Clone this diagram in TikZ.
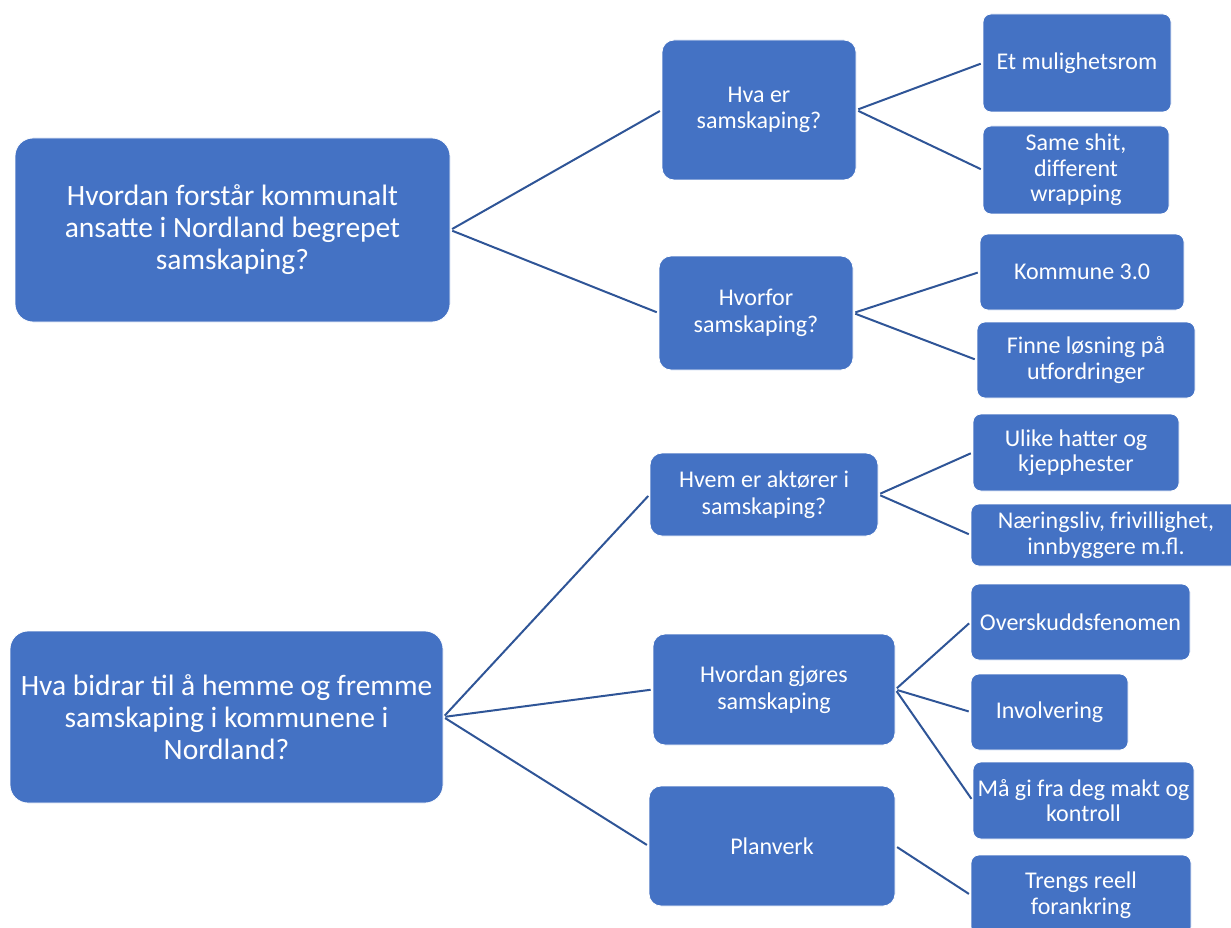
\documentclass[tikz,border=0pt]{standalone}
\usepackage{fontspec}
\setmainfont{Carlito}
\definecolor{boksblaa}{HTML}{4472C4}
\definecolor{linjeblaa}{HTML}{2F5597}
\tikzset{
	boks/.style={
		rectangle,
		fill=boksblaa,
		draw=white, line width=0.8pt,
		text=white,
		align=center,
		inner sep=0pt},
	hoved/.style={boks, rounded corners=18pt, font=\fontsize{29.5}{32}\selectfont},
	sporsmal/.style={boks, rounded corners=12pt, font=\fontsize{24}{26.5}\selectfont},
	svar/.style={boks, rounded corners=8pt, font=\fontsize{24}{25.5}\selectfont},
	linje/.style={draw=linjeblaa, line width=2pt, shorten <=2pt, shorten >=2pt},
}

\begin{document}
\begin{tikzpicture}[x=1pt, y=-1pt]
	\useasboundingbox (0,0) rectangle (1231,928);
	% hovedspørsmål
	\node[hoved, minimum width=435pt, minimum height=184pt] (forstaar) at (232.5,230) {Hvordan forstår kommunalt\\ansatte i Nordland begrepet\\samskaping?};
	\node[hoved, minimum width=433pt, minimum height=172pt] (bidrar) at (226.5,717) {Hva bidrar til å hemme og fremme\\samskaping i kommunene i\\Nordland?};
	% delspørsmål
	\node[sporsmal, minimum width=194pt, minimum height=140pt] (hva) at (759,110) {Hva er\\samskaping?};
	\node[sporsmal, minimum width=194pt, minimum height=114pt] (hvorfor) at (756,313) {Hvorfor\\samskaping?};
	\node[sporsmal, minimum width=228pt, minimum height=83pt] (hvem) at (764,494.5) {Hvem er aktører i\\samskaping?};
	\node[sporsmal, minimum width=242pt, minimum height=111pt] (hvordan) at (774,689.5) {Hvordan gjøres\\samskaping};
	\node[sporsmal, minimum width=246pt, minimum height=120pt] (planverk) at (772,846) {Planverk};
	% svar
	\node[svar, minimum width=188pt, minimum height=98pt] (mulighet) at (1077,63) {Et mulighetsrom};
	\node[svar, minimum width=186pt, minimum height=88pt] (shit) at (1076,170) {Same shit,\\different\\wrapping};
	\node[svar, minimum width=204pt, minimum height=76pt] (kommune) at (1082,272) {Kommune 3.0};
	\node[svar, minimum width=218pt, minimum height=76pt] (losning) at (1086,360) {Finne løsning på\\utfordringer};
	\node[svar, minimum width=206pt, minimum height=77pt] (hatter) at (1076,452.5) {Ulike hatter og\\kjepphester};
	\node[svar, minimum width=270pt, minimum height=62pt] (naering) at (1106,535) {Næringsliv, frivillighet,\\innbyggere m.fl.};
	\node[svar, minimum width=219pt, minimum height=76pt] (overskudd) at (1080.5,622) {Overskuddsfenomen};
	\node[svar, minimum width=157pt, minimum height=76pt] (involvering) at (1049.5,712) {Involvering};
	\node[svar, minimum width=221pt, minimum height=77pt] (makt) at (1083.5,800.5) {Må gi fra deg makt og\\kontroll};
	\node[svar, minimum width=220pt, minimum height=80pt] (forankring) at (1081,895) {Trengs reell\\forankring};
	% linjer
	\foreach \fra/\til in {forstaar/hva, forstaar/hvorfor, bidrar/hvem, bidrar/hvordan, bidrar/planverk,
		hva/mulighet, hva/shit, hvorfor/kommune, hvorfor/losning, hvem/hatter, hvem/naering,
		hvordan/overskudd, hvordan/involvering, hvordan/makt, planverk/forankring}
		\draw[linje] (\fra.east) -- (\til.west);
\end{tikzpicture}
\end{document}
